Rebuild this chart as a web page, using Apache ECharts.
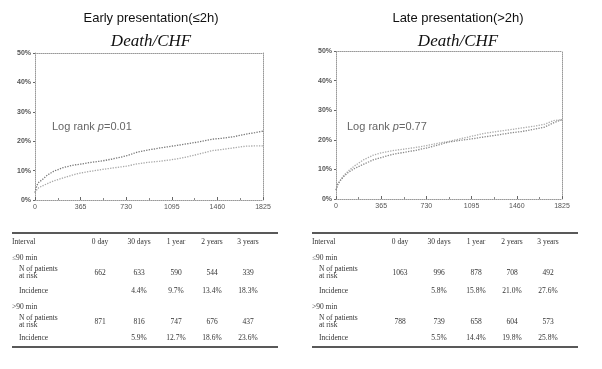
<!DOCTYPE html>
<html>
<head>
<meta charset="utf-8">
<script src="https://cdn.jsdelivr.net/npm/echarts@6/dist/echarts.min.js"></script>
<style>
  html, body { margin: 0; padding: 0; background: #fff; }
  #chart { width: 602px; height: 369px; }
</style>
</head>
<body>
<div id="chart"></div>
<script>
// follow-up days and cumulative incidence (%)
const days = [0, 15, 30, 60, 100, 150, 225, 300, 365, 450, 540, 625, 730, 820, 905, 1000, 1095, 1200, 1300, 1420, 1500, 1600, 1685, 1760, 1825];
const earlyOver90 = [2.5, 5, 6, 7, 8.5, 9.8, 11, 11.8, 12.2, 12.8, 13.3, 14, 15, 16.3, 17, 17.7, 18.3, 19, 19.7, 20.7, 21, 21.6, 22.4, 22.9, 23.4];
const earlyUnder90 = [2.5, 3.5, 4.2, 4.8, 5.6, 6.5, 7.5, 8.5, 9.2, 9.8, 10.4, 10.9, 11.5, 12.3, 12.8, 13.2, 13.7, 14.5, 15.5, 16.8, 17.2, 17.8, 18.3, 18.4, 18.4];
const lateUnder90 = [3, 5, 6, 7.8, 9.5, 11.2, 13.3, 14.8, 15.6, 16.3, 16.8, 17.3, 18, 18.8, 19.4, 20.3, 21.2, 22.2, 22.8, 23.5, 24, 24.6, 25.3, 26.5, 26.8];
const lateOver90 = [3, 5, 6, 7.5, 9, 10.3, 11.8, 13.2, 14, 15, 15.7, 16.3, 17.2, 18.2, 19.2, 19.8, 20.3, 21, 21.6, 22.4, 22.8, 23.6, 24.3, 25.8, 26.8];

// risk tables
const intervals = ["0 day", "30 days", "1 year", "2 years", "3 years"];
const earlyRiskUnder90 = ["662", "633", "590", "544", "339"];
const earlyIncUnder90 = ["", "4.4%", "9.7%", "13.4%", "18.3%"];
const earlyRiskOver90 = ["871", "816", "747", "676", "437"];
const earlyIncOver90 = ["", "5.9%", "12.7%", "18.6%", "23.6%"];
const lateRiskUnder90 = ["1063", "996", "878", "708", "492"];
const lateIncUnder90 = ["", "5.8%", "15.8%", "21.0%", "27.6%"];
const lateRiskOver90 = ["788", "739", "658", "604", "573"];
const lateIncOver90 = ["", "5.5%", "14.4%", "19.8%", "25.8%"];

const zip = (xs, ys) => xs.map((x, i) => [x, ys[i]]);

const panels = [
  { grid: { left: 35, top: 53, width: 228, height: 147 }, titleX: 151, logX: 52, tableLeft: 12,
    title: "Early presentation(\u22642h)", p: "0.01",
    tables: [earlyRiskUnder90, earlyIncUnder90, earlyRiskOver90, earlyIncOver90],
    series: [{ data: earlyOver90, color: "#777" }, { data: earlyUnder90, color: "#a8a8a8" }] },
  { grid: { left: 336, top: 51, width: 226, height: 148 }, titleX: 458, logX: 347, tableLeft: 312,
    title: "Late presentation(>2h)", p: "0.77",
    tables: [lateRiskUnder90, lateIncUnder90, lateRiskOver90, lateIncOver90],
    series: [{ data: lateUnder90, color: "#aaa" }, { data: lateOver90, color: "#888" }] }
];

const dotted = { color: "#999", type: "dotted", width: 1 };
const labelFont = { fontSize: 7, color: "#555", fontFamily: "Liberation Sans" };

const grids = [], xAxes = [], yAxes = [], series = [], graphics = [];

panels.forEach((pn, i) => {
  grids.push(pn.grid);
  // bottom + top x axes
  xAxes.push({
    type: "value", gridIndex: i, min: 0, max: 1825, interval: 365, position: "bottom",
    axisLine: { onZero: false, lineStyle: dotted },
    axisTick: { inside: true, length: 3, lineStyle: { color: "#666" } },
    minorTick: { show: true, splitNumber: 2, length: 2, lineStyle: { color: "#888" } },
    axisLabel: Object.assign({ margin: 4, formatter: (v) => String(v) }, labelFont),
    splitLine: { show: false }
  });
  xAxes.push({
    type: "value", gridIndex: i, min: 0, max: 1825, position: "top",
    axisLine: { show: true, onZero: false, lineStyle: dotted },
    axisTick: { show: false }, axisLabel: { show: false }, splitLine: { show: false }
  });
  yAxes.push({
    type: "value", gridIndex: i, min: 0, max: 50, interval: 10, position: "left",
    axisLine: { show: true, onZero: false, lineStyle: dotted },
    axisTick: { show: true, length: 2, lineStyle: { color: "#666" } },
    axisLabel: Object.assign({ margin: 4, formatter: "{value}%", fontWeight: "bold" }, labelFont),
    splitLine: { show: false }
  });
  yAxes.push({
    type: "value", gridIndex: i, min: 0, max: 50, position: "right",
    axisLine: { show: true, onZero: false, lineStyle: dotted },
    axisTick: { show: false }, axisLabel: { show: false }, splitLine: { show: false }
  });
  pn.series.forEach((s) => {
    series.push({
      type: "line", xAxisIndex: i * 2, yAxisIndex: i * 2,
      data: zip(days, s.data), symbol: "none", smooth: false,
      lineStyle: { color: s.color, width: 1.3, type: "dotted" }
    });
  });

  // titles
  graphics.push({ type: "text", x: pn.titleX, y: 18, style: {
    text: pn.title, align: "center", verticalAlign: "middle",
    font: "13px 'Liberation Sans'", fill: "#111" } });
  graphics.push({ type: "text", x: pn.titleX, y: 42, style: {
    text: "Death/CHF", align: "center", verticalAlign: "middle",
    font: "italic 17px 'Liberation Serif'", fill: "#111" } });
  // log rank
  graphics.push({ type: "text", x: pn.logX, y: 127, style: {
    rich: { it: { fontStyle: "italic", fontSize: 11, fill: "#666", fontFamily: "Liberation Sans" } },
    text: "Log rank {it|p}=" + pn.p, verticalAlign: "middle",
    font: "11px 'Liberation Sans'", fill: "#666" } });

  // risk table
  const L = pn.tableLeft;
  const cols = [88, 127, 164, 200, 236].map((c) => L + c);
  const tFont = "7.5px 'Liberation Serif'";
  const txt = (x, y, t, align) => graphics.push({ type: "text", x: x, y: y, style: {
    text: t, align: align || "left", verticalAlign: "middle", font: tFont, fill: "#333", lineHeight: 7 } });
  const rule = (y) => graphics.push({ type: "line", shape: { x1: L, y1: y, x2: L + 266, y2: y },
    style: { stroke: "#222", lineWidth: 1.4 } });
  rule(233);
  txt(L, 242, "Interval");
  intervals.forEach((t, k) => txt(cols[k], 242, t, "center"));
  txt(L, 258, "\u226490 min");
  txt(L + 7, 273, "N of patients\nat risk");
  pn.tables[0].forEach((t, k) => txt(cols[k], 273, t, "center"));
  txt(L + 7, 291, "Incidence");
  pn.tables[1].forEach((t, k) => txt(cols[k], 291, t, "center"));
  txt(L, 307, ">90 min");
  txt(L + 7, 322, "N of patients\nat risk");
  pn.tables[2].forEach((t, k) => txt(cols[k], 322, t, "center"));
  txt(L + 7, 338, "Incidence");
  pn.tables[3].forEach((t, k) => txt(cols[k], 338, t, "center"));
  rule(347);
});

const chart = echarts.init(document.getElementById("chart"), null, { renderer: "canvas" });
chart.setOption({
  animation: false,
  backgroundColor: "#fff",
  grid: grids,
  xAxis: xAxes,
  yAxis: yAxes,
  series: series,
  graphic: graphics
});
</script>
</body>
</html>
